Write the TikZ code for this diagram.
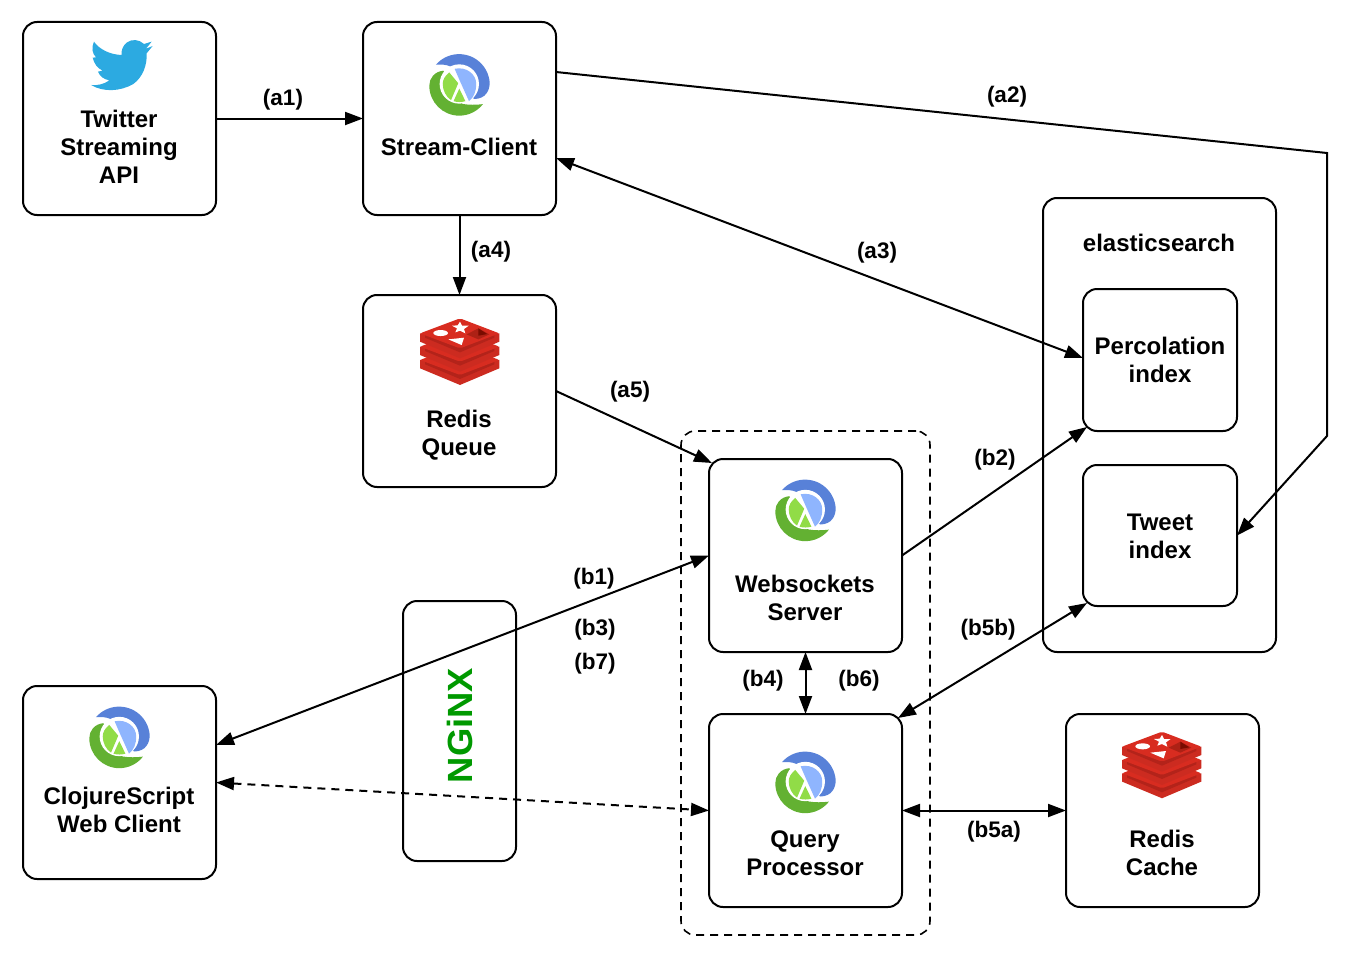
\documentclass[tikz,border=0pt]{standalone}
\usepackage{fontspec}
\setmainfont{Liberation Sans}
\usetikzlibrary{arrows.meta}
\definecolor{cljblue}{HTML}{5881D8}
\definecolor{cljlblue}{HTML}{8FB5FE}
\definecolor{cljgreen}{HTML}{63B132}
\definecolor{cljlgreen}{HTML}{91DC47}
\definecolor{twblue}{HTML}{2CAAE1}
\definecolor{rdbright}{HTML}{D82C20}
\definecolor{rdside}{HTML}{B3231A}
\definecolor{rdmid}{HTML}{CC2B20}
\definecolor{rddark}{HTML}{7A0C00}
\definecolor{rdshade}{HTML}{AD2115}
\definecolor{ngxgreen}{HTML}{009900}
\tikzset{
  card/.style={draw=black,line width=2pt,rounded corners=14pt,fill=none,outer sep=0pt},
  cardtext/.style={font=\fontsize{24}{28}\selectfont\bfseries,align=center,inner sep=0pt},
  edgelabel/.style={font=\fontsize{22.5}{26}\selectfont\bfseries,inner sep=0pt},
  conn/.style={line width=2pt,-{Triangle[length=18pt,width=13pt]}},
  dconn/.style={line width=2pt,{Triangle[length=18pt,width=13pt]}-{Triangle[length=18pt,width=13pt]}},
}
\newcommand{\cljlogo}[2]{%
  \begin{scope}[shift={(#1,#2)},x=.3333pt,y=.3333pt]
    \fill[cljblue] (-70,61) arc[start angle=139,end angle=5,radius=92] .. controls (92,-15) and (80,-42) .. (44,-42) -- (10,0) -- (-25,55) .. controls (-40,62) and (-55,62) .. cycle;
    \fill[cljgreen] (-48,43) .. controls (-75,40) and (-90,20) .. (-90,-2) arc[start angle=180,end angle=322,radius=90] .. controls (50,-60) and (30,-60) .. (10,-57) -- cycle;
    \fill[white] (0,3) circle[radius=59];
    \begin{scope}[x=.36pt,y=.36pt]
    \fill[cljlgreen] (-28,35) .. controls (-40,25) and (-46,15) .. (-46,3) .. controls (-46,-15) and (-37,-33) .. (-23,-42) -- (-3,5) -- cycle;
    \fill[cljlblue] (-13,45) .. controls (20,52) and (47,30) .. (47,3) .. controls (47,-18) and (40,-35) .. (27,-45) -- (0,15) -- cycle;
    \fill[cljlgreen] (-16,-45) -- (0,-10) -- (17,-45) .. controls (6,-48) and (-6,-48) .. cycle;
    \end{scope}
  \end{scope}}
\newcommand{\redislayer}[1]{%
  \begin{scope}[yshift=#1]
    \fill[rdmid] (-120,-55) -- (-120,-30) -- (0,20) -- (118,-30) -- (118,-55) -- cycle;
    \fill[rdside] (-105,-50) -- (-105,-42) -- (0,2) -- (103,-42) -- (103,-50) -- cycle;
    \fill[rdbright,rounded corners=2pt] (-120,-55) -- (0,-100) -- (118,-55) -- (0,-10) -- cycle;
  \end{scope}}
\newcommand{\redislogo}[2]{%
  \begin{scope}[shift={(#1,#2)},x=.3333pt,y=-.3333pt]
    \redislayer{-26.6pt}\redislayer{-13.3pt}\redislayer{0pt}
    \fill[white] (-58,-56) ellipse[x radius=22,y radius=9];
    \fill[white] (0,-90) -- (6,-78) -- (26,-78) -- (12,-68) -- (16,-55) -- (0,-63) -- (-14,-58) -- (-9,-70) -- (-24,-78) -- (-7,-79) -- cycle;
    \fill[white] (-35,-37) -- (12,-42) -- (5,-20) -- cycle;
    \fill[rdshade] (20,-52) -- (55,-70) -- (88,-52) -- (55,-37) -- cycle;
    \fill[rddark] (55,-70) -- (55,-48) -- (82,-53) -- cycle;
  \end{scope}}
\begin{document}
\begin{tikzpicture}[x=1pt,y=-1pt]
\useasboundingbox (0,0) rectangle (1350,958);
% boxes
\node[card,minimum width=193pt,minimum height=193pt,inner sep=0pt] (tw) at (119.5,118.5) {};
\node[card,minimum width=193pt,minimum height=193pt,inner sep=0pt] (sc) at (459.5,118.5) {};
\node[card,minimum width=193pt,minimum height=192pt,inner sep=0pt] (rq) at (459.5,391) {};
\node[card,minimum width=233pt,minimum height=454pt,inner sep=0pt] (es) at (1159.5,425) {};
\node[card,minimum width=154pt,minimum height=142pt,inner sep=0pt] (pi) at (1160,360) {};
\node[card,minimum width=154pt,minimum height=141pt,inner sep=0pt] (ti) at (1160,535.5) {};
\node[card,minimum width=193pt,minimum height=193pt,inner sep=0pt] (ws) at (805.5,555.5) {};
\node[card,minimum width=193pt,minimum height=193pt,inner sep=0pt] (qp) at (805.5,810.5) {};
\node[card,minimum width=193pt,minimum height=193pt,inner sep=0pt] (rc) at (1162.5,810.5) {};
\node[card,minimum width=193pt,minimum height=193pt,inner sep=0pt] (cs) at (119.5,782.5) {};
\node[card,minimum width=113pt,minimum height=260pt,inner sep=0pt] (ng) at (459.5,731) {};
\node[card,dashed,line width=1.6pt,dash pattern=on 8pt off 6pt,minimum width=249pt,minimum height=504pt,inner sep=0pt] (grp) at (805.5,683) {};
% icons
\begin{scope}[shift={(20,20)},x=.3333pt,y=-.3333pt]
  \fill[twblue] (395,65) -- (372,72) .. controls (358,58) and (335,56) .. (320,68) .. controls (308,78) and (303,92) .. (305,105)
    .. controls (270,104) and (238,88) .. (222,65) .. controls (214,82) and (216,100) .. (228,112) -- (218,113)
    .. controls (222,130) and (232,145) .. (248,152) -- (234,155) .. controls (240,170) and (252,178) .. (268,181)
    .. controls (252,193) and (232,197) .. (213,195) .. controls (250,217) and (300,215) .. (340,192)
    .. controls (368,172) and (382,135) .. (380,100) -- (398,78) -- (378,86) -- cycle;
\end{scope}
\cljlogo{459.3}{85}
\cljlogo{805.3}{510.5}
\cljlogo{805.3}{782.5}
\cljlogo{119.3}{737.5}
\redislogo{460}{351.7}
\redislogo{1162}{765}
% texts
\node[cardtext] (t1) at (119,147) {Twitter\\Streaming\\API};
\node[cardtext] (t2) at (459,147) {Stream-Client};
\node[cardtext] (t3) at (459,435) {Redis\\Queue};
\node[cardtext] (t4) at (1159,243) {elasticsearch};
\node[cardtext] (t5) at (1160,360) {Percolation\\index};
\node[cardtext] (t6) at (1160,536) {Tweet\\index};
\node[cardtext] (t7) at (805,598) {Websockets\\Server};
\node[cardtext] (t8) at (805,853) {Query\\Processor};
\node[cardtext] (t9) at (1162,853) {Redis\\Cache};
\node[cardtext] (t10) at (119,810) {ClojureScript\\Web Client};
\node[inner sep=0pt,rotate=90,text=ngxgreen,font=\fontsize{35}{35}\selectfont\bfseries] (ngt) at (459.5,725.5) {\scalebox{1.04}[1]{NGiNX}};
% connectors
\coordinate (k1) at (1327,153);
\coordinate (k2) at (1327,436);
\draw[conn] (tw) -- (sc);
\draw[conn] (sc) -- (rq);
\draw[conn] ([yshift=46.5pt]sc.east) -- (k1) -- (k2) -- (ti.east);
\draw[dconn] ([yshift=-39.5pt]sc.east) -- ([yshift=2pt]pi.west);
\draw[conn] (rq.east) -- ([xshift=3pt,yshift=-4pt]ws.north west);
\draw[conn] (ws.east) -- ([xshift=4pt,yshift=4pt]pi.south west);
\draw[dconn] ([xshift=-4pt,yshift=-4pt]qp.north east) -- ([xshift=4pt,yshift=3pt]ti.south west);
\draw[dconn] (ws) -- (qp);
\draw[dconn] (qp) -- (rc);
\draw[dconn] ([yshift=37.5pt]cs.east) -- (ws.west);
\draw[dconn,dash pattern=on 8pt off 6pt] (cs.east) -- (qp.west);
% labels
\node[edgelabel] (a1) at (283,100) {(a1)};
\node[edgelabel] (a2) at (1007,97) {(a2)};
\node[edgelabel] (a3) at (877,253) {(a3)};
\node[edgelabel] (a4) at (491,252) {(a4)};
\node[edgelabel] (a5) at (630,392) {(a5)};
\node[edgelabel] (b1) at (594,579) {(b1)};
\node[edgelabel] (b2) at (995,460) {(b2)};
\node[edgelabel] (b3) at (595,630) {(b3)};
\node[edgelabel] (b7) at (595,664) {(b7)};
\node[edgelabel] (b4) at (763,681) {(b4)};
\node[edgelabel] (b6) at (859,681) {(b6)};
\node[edgelabel] (b5b) at (988,630) {(b5b)};
\node[edgelabel] (b5a) at (994,832) {(b5a)};
\end{tikzpicture}
\end{document}
